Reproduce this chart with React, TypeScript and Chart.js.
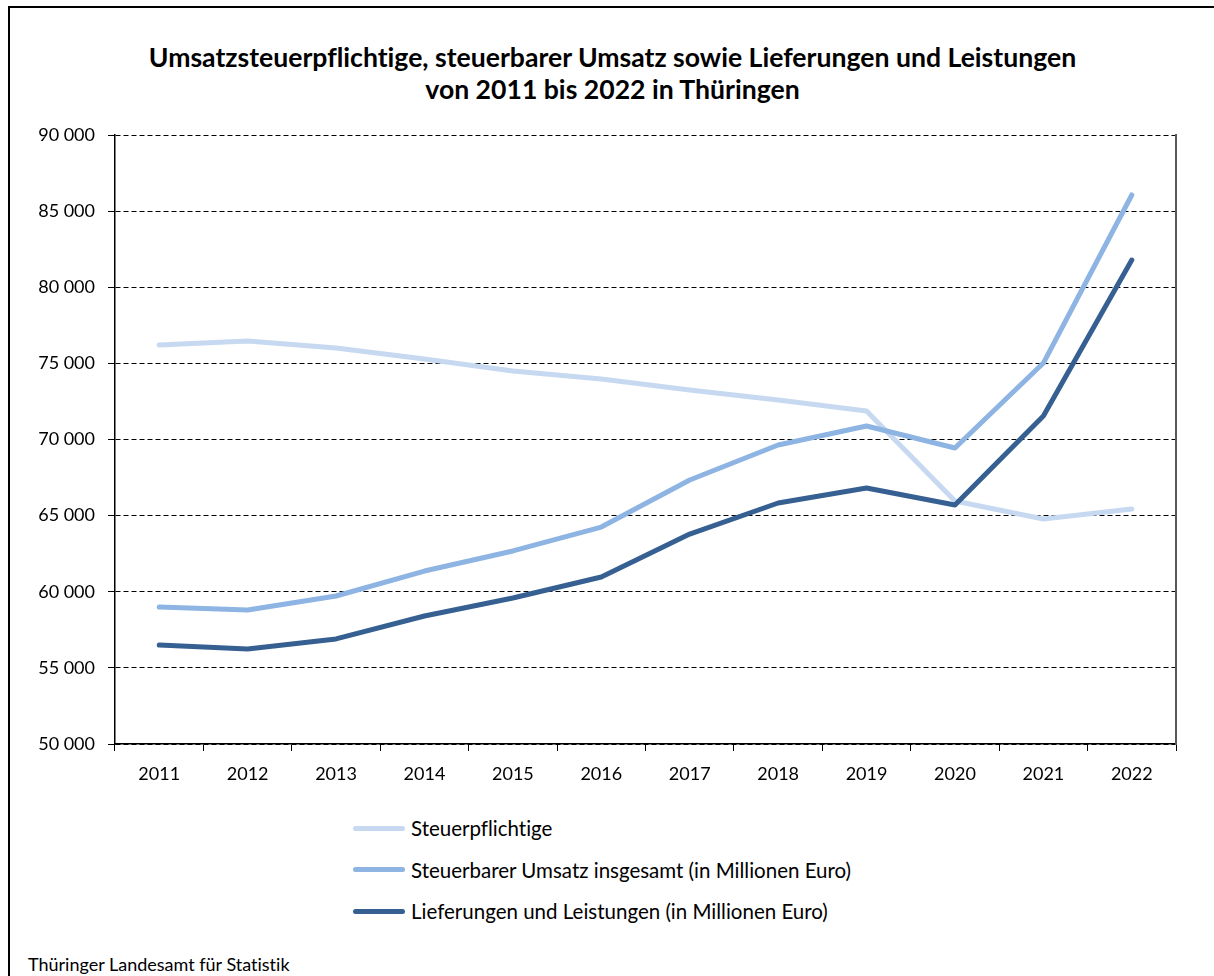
import React, { useEffect, useRef } from 'react';
import { Chart, registerables } from 'chart.js';

Chart.register(...registerables);

const years = ['2011', '2012', '2013', '2014', '2015', '2016', '2017', '2018', '2019', '2020', '2021', '2022'];
const steuerpflichtige = [76200, 76470, 76010, 75290, 74500, 73970, 73250, 72590, 71870, 65960, 64780, 65440];
const steuerbarerUmsatz = [59000, 58800, 59720, 61360, 62680, 64250, 67340, 69640, 70890, 69440, 75020, 86060];
const lieferungen = [56500, 56240, 56900, 58410, 59590, 60970, 63790, 65830, 66810, 65700, 71540, 81790];
const yMin = 50000;
const yMax = 90000;
const yStep = 5000;
const seriesLabels = [
  'Steuerpflichtige',
  'Steuerbarer Umsatz insgesamt (in Millionen Euro)',
  'Lieferungen und Leistungen (in Millionen Euro)',
];
const seriesColors = ['#c6d9f1', '#8db4e2', '#376092'];
const titleLines = [
  'Umsatzsteuerpflichtige, steuerbarer Umsatz sowie Lieferungen und Leistungen',
  'von 2011 bis 2022 in Thüringen',
];
const sourceText = 'Thüringer Landesamt für Statistik';

const FONT = 'Lato, "Noto Sans", sans-serif';

function formatNumber(v: number): string {
  return String(Math.round(v)).replace(/\B(?=(\d{3})+(?!\d))/g, ' ');
}

export default function App() {
  const canvasRef = useRef<HTMLCanvasElement | null>(null);

  useEffect(() => {
    if (!canvasRef.current) return;
    const seriesData = [steuerpflichtige, steuerbarerUmsatz, lieferungen];
    const chart = new Chart(canvasRef.current, {
      type: 'line',
      data: {
        labels: years,
        datasets: seriesData.map((d, i) => ({
          label: seriesLabels[i],
          data: d,
          borderColor: seriesColors[i],
          backgroundColor: seriesColors[i],
          borderWidth: 5,
          pointRadius: 0,
          tension: 0,
          borderCapStyle: 'round' as const,
          borderJoinStyle: 'round' as const,
          fill: false,
          order: 3 - i,
        })),
      },
      options: {
        animation: false,
        responsive: false,
        maintainAspectRatio: false,
        layout: { padding: { left: 0, right: 38, top: 135, bottom: 0 } },
        plugins: {
          legend: { display: false },
          title: { display: false },
          tooltip: { enabled: false },
        },
        scales: {
          x: {
            type: 'category',
            offset: true,
            grid: {
              offset: true,
              drawOnChartArea: false,
              tickLength: 7,
              color: '#000',
              tickColor: '#000',
            },
            border: { display: true, color: '#000', width: 1.5 },
            ticks: {
              color: '#000',
              padding: 12,
              maxRotation: 0,
              font: { family: FONT, size: 18 },
            },
            afterFit: (s: any) => {
              s.height = 56;
            },
          },
          y: {
            type: 'linear',
            min: yMin,
            max: yMax,
            grid: {
              color: '#000',
              lineWidth: 1,
              tickLength: 7,
              tickColor: '#000',
              tickBorderDash: [],
            },
            border: { display: true, color: '#000', width: 1.5, dash: [5, 3] },
            ticks: {
              stepSize: yStep,
              color: '#000',
              padding: 13,
              font: { family: FONT, size: 18 },
              callback: (v: any) => formatNumber(Number(v)),
            },
            afterFit: (s: any) => {
              s.width = 115;
            },
          },
          y2: {
            type: 'linear',
            position: 'right',
            min: yMin,
            max: yMax,
            grid: { display: false, drawTicks: false },
            border: { display: true, color: '#595959', width: 2 },
            ticks: { display: false },
            afterFit: (s: any) => {
              s.width = 0;
            },
          },
        },
      },
    });
    return () => chart.destroy();
  }, []);

  const textBase: React.CSSProperties = {
    fontFamily: FONT,
    color: '#000',
    whiteSpace: 'nowrap',
    fontVariantLigatures: 'none',
    fontFeatureSettings: '"liga" 0, "clig" 0',
  };

  return (
    <div style={{ position: 'absolute', left: 0, top: 0, width: 1214, height: 976, overflow: 'hidden', background: '#fff' }}>
      <div
        style={{
          position: 'absolute',
          left: 8,
          top: 6,
          width: 1206,
          height: 970,
          borderLeft: '2px solid #000',
          borderTop: '2px solid #000',
          boxSizing: 'border-box',
        }}
      />
      <div
        style={{
          ...textBase,
          position: 'absolute',
          left: 0,
          top: 41,
          width: 1225,
          textAlign: 'center',
          fontWeight: 700,
          fontSize: 26.6,
          lineHeight: '32px',
        }}
      >
        {titleLines.map((t, i) => (
          <div key={i}>{t}</div>
        ))}
      </div>
      <canvas
        ref={canvasRef}
        width={1214}
        height={800}
        style={{ position: 'absolute', left: 0, top: 0, width: 1214, height: 800 }}
      />
      {seriesLabels.map((lab, i) => (
        <div
          key={lab}
          style={{
            ...textBase,
            position: 'absolute',
            left: 353,
            top: 828 + i * 41.5 - 13,
            height: 26,
            display: 'flex',
            alignItems: 'center',
            fontSize: 20.5,
          }}
        >
          <span
            style={{
              display: 'inline-block',
              width: 52,
              height: 5,
              borderRadius: 3,
              background: seriesColors[i],
              marginRight: 6,
            }}
          />
          <span>{lab}</span>
        </div>
      ))}
      <div
        style={{
          ...textBase,
          position: 'absolute',
          left: 28,
          top: 952,
          fontSize: 18,
          lineHeight: '24px',
        }}
      >
        {sourceText}
      </div>
    </div>
  );
}
